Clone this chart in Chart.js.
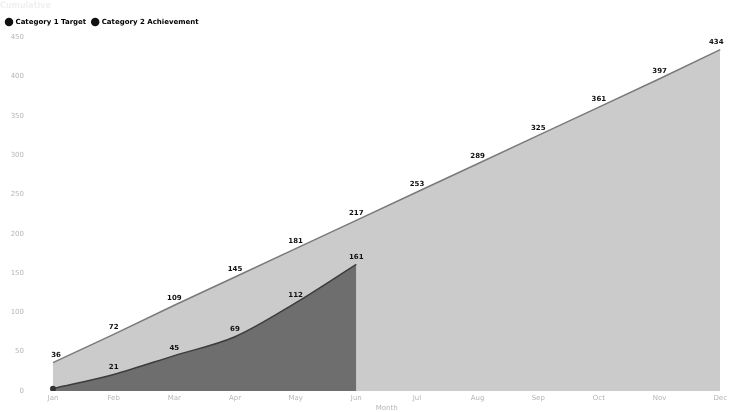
<!DOCTYPE html>
<html>
<head>
<meta charset="utf-8">
<script src="https://cdn.jsdelivr.net/npm/chart.js@4"></script>
<style>
  html, body { margin: 0; padding: 0; background: #fff; overflow: hidden; }
  #chart { display: block; }
</style>
</head>
<body>
<canvas id="chart" width="730" height="412"></canvas>
<script>
  const months = ["Jan", "Feb", "Mar", "Apr", "May", "Jun", "Jul", "Aug", "Sep", "Oct", "Nov", "Dec"]
  const targetValues = [36, 72, 109, 145, 181, 217, 253, 289, 325, 361, 397, 434]
  const actualValues = [3, 21, 45, 69, 112, 161]
  const seriesNames = ["Category 1 Target", "Category 2 Achievement"]
  const yTicks = [0, 50, 100, 150, 200, 250, 300, 350, 400, 450]

  // draws the value above each point, like the data labels in the picture
  const valueLabels = {
    id: 'valueLabels',
    afterDatasetsDraw(chart){
      const ctx = chart.ctx
      ctx.save()
      ctx.font = 'bold 7px "DejaVu Sans"'
      ctx.fillStyle = '#111'
      ctx.textAlign = 'center'
      ctx.textBaseline = 'bottom'
      chart.data.datasets.forEach((ds, i) => {
        const meta = chart.getDatasetMeta(i)
        meta.data.forEach((pt, j) => {
          if(i === 1 && j === 0) return
          let x = pt.x
          if(j === 0) x += 3
          if(j === meta.data.length - 1 && i === 0) x -= 4
          ctx.fillText(ds.data[j], x, pt.y - 4)
        })
      })
      ctx.restore()
    }
  }

  // a bit more room under the legend
  const legendGap = {
    id: 'legendGap',
    beforeInit(chart){
      const fit = chart.legend.fit
      chart.legend.fit = function(){
        fit.call(this)
        this.height += 1.5
      }
    }
  }

  const config = {
    type: 'line',
    data: {
      labels: months,
      datasets: [
        {
          label: seriesNames[0],
          data: targetValues,
          borderColor: '#7a7a7a',
          backgroundColor: '#cbcbcb',
          borderWidth: 1.5,
          fill: 'origin',
          pointRadius: 0,
          tension: 0,
          order: 2
        },
        {
          label: seriesNames[1],
          data: actualValues,
          borderColor: '#3c3c3c',
          backgroundColor: '#6e6e6e',
          borderWidth: 1.5,
          fill: 'origin',
          pointRadius: [3, 0, 0, 0, 0, 0],
          pointBackgroundColor: '#333',
          pointBorderWidth: 0,
          cubicInterpolationMode: 'monotone',
          order: 1
        }
      ]
    },
    options: {
      responsive: false,
      devicePixelRatio: 1,
      animation: false,
      layout: { padding: { left: 0, right: 7, top: 0, bottom: 0 } },
      plugins: {
        title: {
          display: true,
          text: 'Cumulative',
          align: 'start',
          color: '#f0f0f0',
          font: { size: 8, family: 'DejaVu Sans' },
          padding: { top: 1, bottom: 2 }
        },
        legend: {
          display: true,
          align: 'start',
          labels: {
            usePointStyle: true,
            pointStyle: 'circle',
            boxWidth: 6,
            boxHeight: 6,
            padding: 6,
            color: '#111',
            font: { size: 7, weight: 'bold', family: 'DejaVu Sans' },
            generateLabels(chart){
              return chart.data.datasets.map((ds, i) => ({
                text: ds.label,
                fillStyle: '#111',
                strokeStyle: '#111',
                lineWidth: 0,
                pointStyle: 'circle',
                datasetIndex: i
              }))
            }
          }
        },
        tooltip: { enabled: false }
      },
      scales: {
        x: {
          afterFit(axis){ axis.height = 21 },
          grid: { display: false, drawTicks: false },
          border: { display: false },
          ticks: { color: '#b5b5b5', font: { size: 7, family: 'DejaVu Sans' }, padding: 3, maxRotation: 0 },
          title: { display: true, text: 'Month', color: '#b5b5b5', font: { size: 7, family: 'DejaVu Sans' }, padding: { top: 0, bottom: 0 } }
        },
        y: {
          min: 0,
          max: 450,
          afterBuildTicks(axis){ axis.ticks = yTicks.map(v => ({ value: v })) },
          afterFit(axis){
            axis.width = 53
            axis.paddingTop = 4
            axis.paddingBottom = 4
          },
          grid: { display: false, drawTicks: false },
          border: { display: false },
          ticks: { color: '#b5b5b5', font: { size: 7, family: 'DejaVu Sans' }, padding: 29 }
        }
      }
    },
    plugins: [valueLabels, legendGap]
  }

  const myChart = new Chart(document.getElementById('chart'), config)
</script>
</body>
</html>
